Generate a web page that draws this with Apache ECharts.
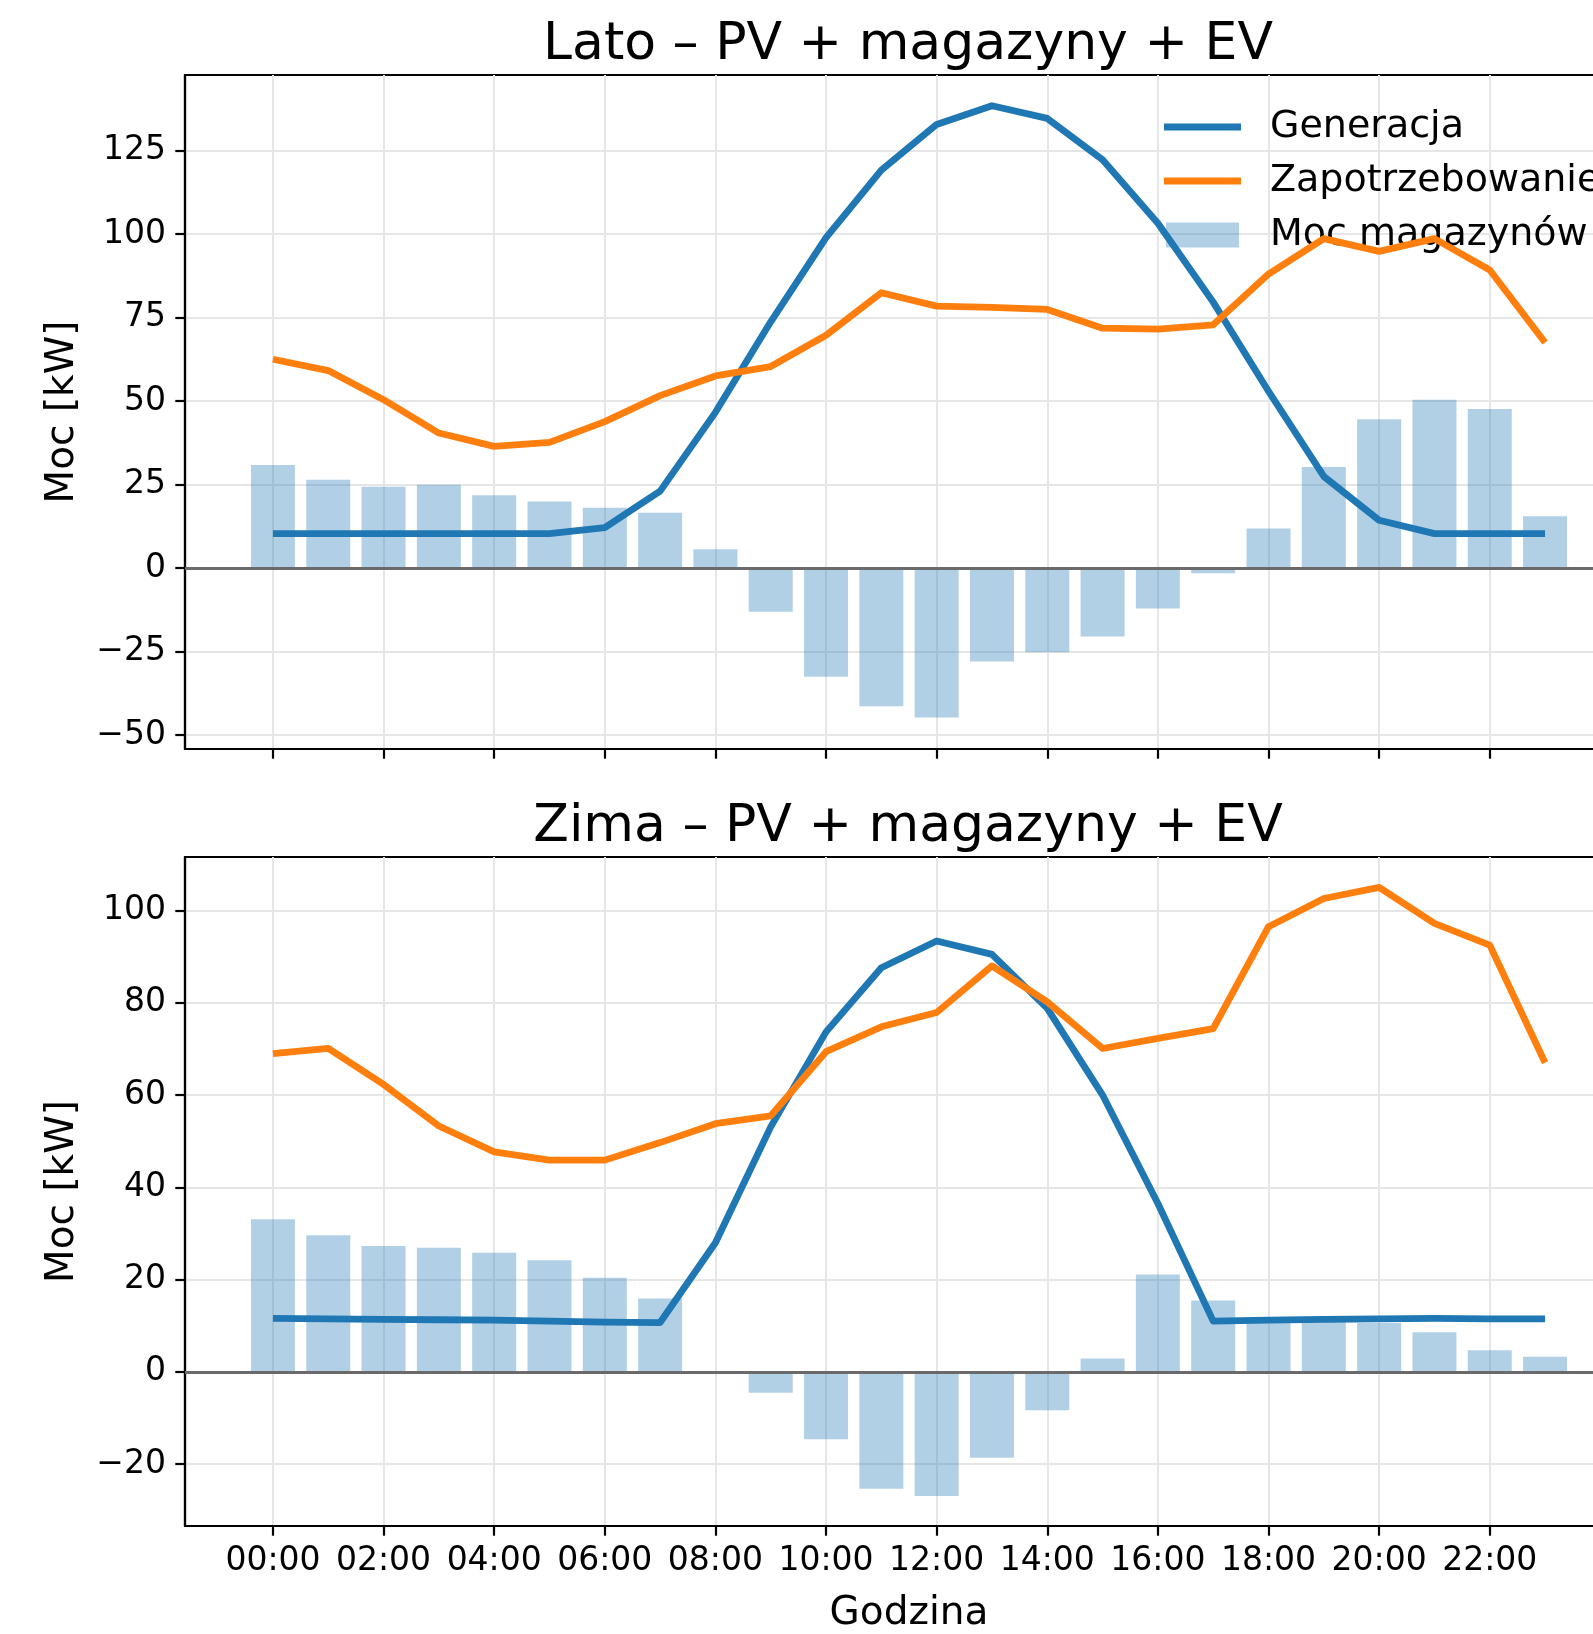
<!DOCTYPE html>
<html>
<head>
<meta charset="utf-8">
<script src="https://cdn.jsdelivr.net/npm/echarts@6/dist/echarts.min.js"></script>
<style>
html,body{margin:0;padding:0;background:#fff;overflow:hidden;width:1593px;height:1634px;}
#chart{width:1640px;height:1634px;}
</style>
</head>
<body>
<div id="chart"></div>
<script>
const hours = [0,1,2,3,4,5,6,7,8,9,10,11,12,13,14,15,16,17,18,19,20,21,22,23];
const tickHours = [0,2,4,6,8,10,12,14,16,18,20,22];
const tickLabels = ['00:00','02:00','04:00','06:00','08:00','10:00','12:00','14:00','16:00','18:00','20:00','22:00'];
const summerTicks = [-50,-25,0,25,50,75,100,125];
const winterTicks = [-20,0,20,40,60,80,100];

const summerStorage = [30.8,26.4,24.3,24.9,21.8,19.9,18.0,16.5,5.6,-13.1,-32.6,-41.4,-44.8,-28.0,-25.2,-20.5,-12.1,-1.6,11.8,30.2,44.5,50.4,47.6,15.5];
const summerGen = [10.3,10.3,10.3,10.3,10.3,10.3,12.1,23.0,46.6,73.7,98.9,119.1,132.8,138.4,134.6,122.2,103.2,79.6,52.9,27.4,14.3,10.3,10.3,10.3];
const summerDemand = [62.5,59.1,50.4,40.4,36.4,37.6,43.8,51.6,57.5,60.3,69.7,82.4,78.4,78.0,77.4,71.8,71.5,72.8,88.0,98.6,94.8,98.6,89.2,67.5];

const winterStorage = [33.1,29.6,27.3,26.9,25.8,24.2,20.4,15.9,0,-4.5,-14.6,-25.3,-26.9,-18.6,-8.3,2.9,21.1,15.5,10.9,10.9,10.6,8.6,4.7,3.3];
const winterGen = [11.6,11.5,11.4,11.3,11.2,11.0,10.8,10.7,28.0,53.1,73.7,87.6,93.4,90.5,78.8,60.0,36.5,11.0,11.2,11.4,11.5,11.6,11.5,11.5];
const winterDemand = [69.0,70.1,62.3,53.3,47.7,45.9,45.9,49.7,53.8,55.5,69.4,74.8,77.9,88.0,80.2,70.1,72.3,74.4,96.5,102.6,105.0,97.2,92.5,67.0];

const titles = ['Lato – PV + magazyny + EV', 'Zima – PV + magazyny + EV'];
const names = ['Generacja', 'Zapotrzebowanie', 'Moc magazynów'];

const FONT = 'DejaVu Sans';
const BLUE = '#1f77b4', ORANGE = '#ff7f0e', BAR = 'rgba(31,119,180,0.35)';
const GRIDC = '#e6e6e6';

function pairs(vals){ return hours.map((h,i)=>[h, vals[i]]); }
function fmtNum(v){ return String(v).replace('-', '\u2212'); }

const chart = echarts.init(document.getElementById('chart'), null, {renderer:'canvas'});

const grids = [
  {left:185, top:75, width:1448, height:674},
  {left:185, top:857, width:1448, height:673}
];
const yRanges = [[-54.2,147.6],[-33.4,111.6]];
const yTicks = [summerTicks, winterTicks];
const yStep = [25, 20];

const xAxes = grids.map((g,i)=>({
  type:'value', gridIndex:i, min:-1.59, max:24.59,
  minInterval:2, maxInterval:2,
  axisLine:{show:true, onZero:false, lineStyle:{color:'#000', width:2.2}},
  axisTick:{show:true, length:9.7, lineStyle:{color:'#000', width:2.2}, customValues: tickHours},
  axisLabel:{show: i===1, customValues: tickHours, margin:19, color:'#000', fontFamily:FONT, fontSize:33,
    formatter:(v)=>{ const k = tickHours.indexOf(Math.round(v)); return k>=0 ? tickLabels[k] : ''; }},
  splitLine:{show:true, lineStyle:{color:GRIDC, width:2}},
  name: i===1 ? 'Godzina' : '', nameLocation:'middle', nameGap:68,
  nameTextStyle:{color:'#000', fontFamily:FONT, fontSize:39}
}));

const yAxes = grids.map((g,i)=>({
  type:'value', gridIndex:i, min:yRanges[i][0], max:yRanges[i][1],
  minInterval:yStep[i], maxInterval:yStep[i],
  axisLine:{show:true, onZero:false, lineStyle:{color:'#000', width:2.2}},
  axisTick:{show:true, length:9.7, lineStyle:{color:'#000', width:2.2}, customValues: yTicks[i]},
  axisLabel:{customValues: yTicks[i], margin:19, color:'#000', fontFamily:FONT, fontSize:33, formatter:(v)=>fmtNum(v)},
  splitLine:{show:true, lineStyle:{color:GRIDC, width:2}},
  name:'Moc [kW]', nameLocation:'middle', nameGap:103, nameRotate:90,
  nameTextStyle:{color:'#000', fontFamily:FONT, fontSize:39}
}));

const datasets = [
  [summerStorage, summerGen, summerDemand],
  [winterStorage, winterGen, winterDemand]
];

const series = [];
datasets.forEach((d,i)=>{
  series.push({
    name:names[2], type:'bar', xAxisIndex:i, yAxisIndex:i,
    data:pairs(d[0]), barWidth:44, itemStyle:{color:BAR},
    z:2,
    markLine:{silent:true, symbol:['none','none'], label:{show:false},
      lineStyle:{color:'#6a6a6a', width:2.8, type:'solid'}, data:[{yAxis:0}], animation:false}
  });
  series.push({
    name:names[0], type:'line', xAxisIndex:i, yAxisIndex:i, data:pairs(d[1]),
    symbol:'none', showSymbol:false, z:4,
    lineStyle:{color:BLUE, width:6.8, join:'round', cap:'butt'}, itemStyle:{color:BLUE}
  });
  series.push({
    name:names[1], type:'line', xAxisIndex:i, yAxisIndex:i, data:pairs(d[2]),
    symbol:'none', showSymbol:false, z:4,
    lineStyle:{color:ORANGE, width:6.8, join:'round', cap:'butt'}, itemStyle:{color:ORANGE}
  });
});

const lineIcon = 'path://M0,0 L77,0 L77,7 L0,7 Z';
const rectIcon = 'path://M0,0 L73,0 L73,25 L0,25 Z';

chart.setOption({
  animation:false,
  backgroundColor:'#fff',
  textStyle:{fontFamily:FONT},
  title:[
    {text:titles[0], left:903, top:14, textAlign:'center', textStyle:{fontFamily:FONT, fontSize:52, fontWeight:'normal', color:'#000'}},
    {text:titles[1], left:903, top:796, textAlign:'center', textStyle:{fontFamily:FONT, fontSize:52, fontWeight:'normal', color:'#000'}}
  ],
  legend:{
    show:true, orient:'vertical', left:1159, top:103,
    data:[{name:names[0], icon:lineIcon}, {name:names[1], icon:lineIcon}, {name:names[2], icon:rectIcon}],
    itemWidth:77, itemHeight:25, itemGap:16,
    symbolKeepAspect:true,
    itemStyle:{borderWidth:0},
    selectedMode:false,
    textStyle:{fontFamily:FONT, fontSize:38, color:'#000', lineHeight:38, padding:[0,0,0,24]}
  },
  grid: grids.map(g=>Object.assign({show:true, borderColor:'#000', borderWidth:2.2, backgroundColor:'transparent', containLabel:false}, g)),
  xAxis: xAxes,
  yAxis: yAxes,
  series: series
});
</script>
</body>
</html>
